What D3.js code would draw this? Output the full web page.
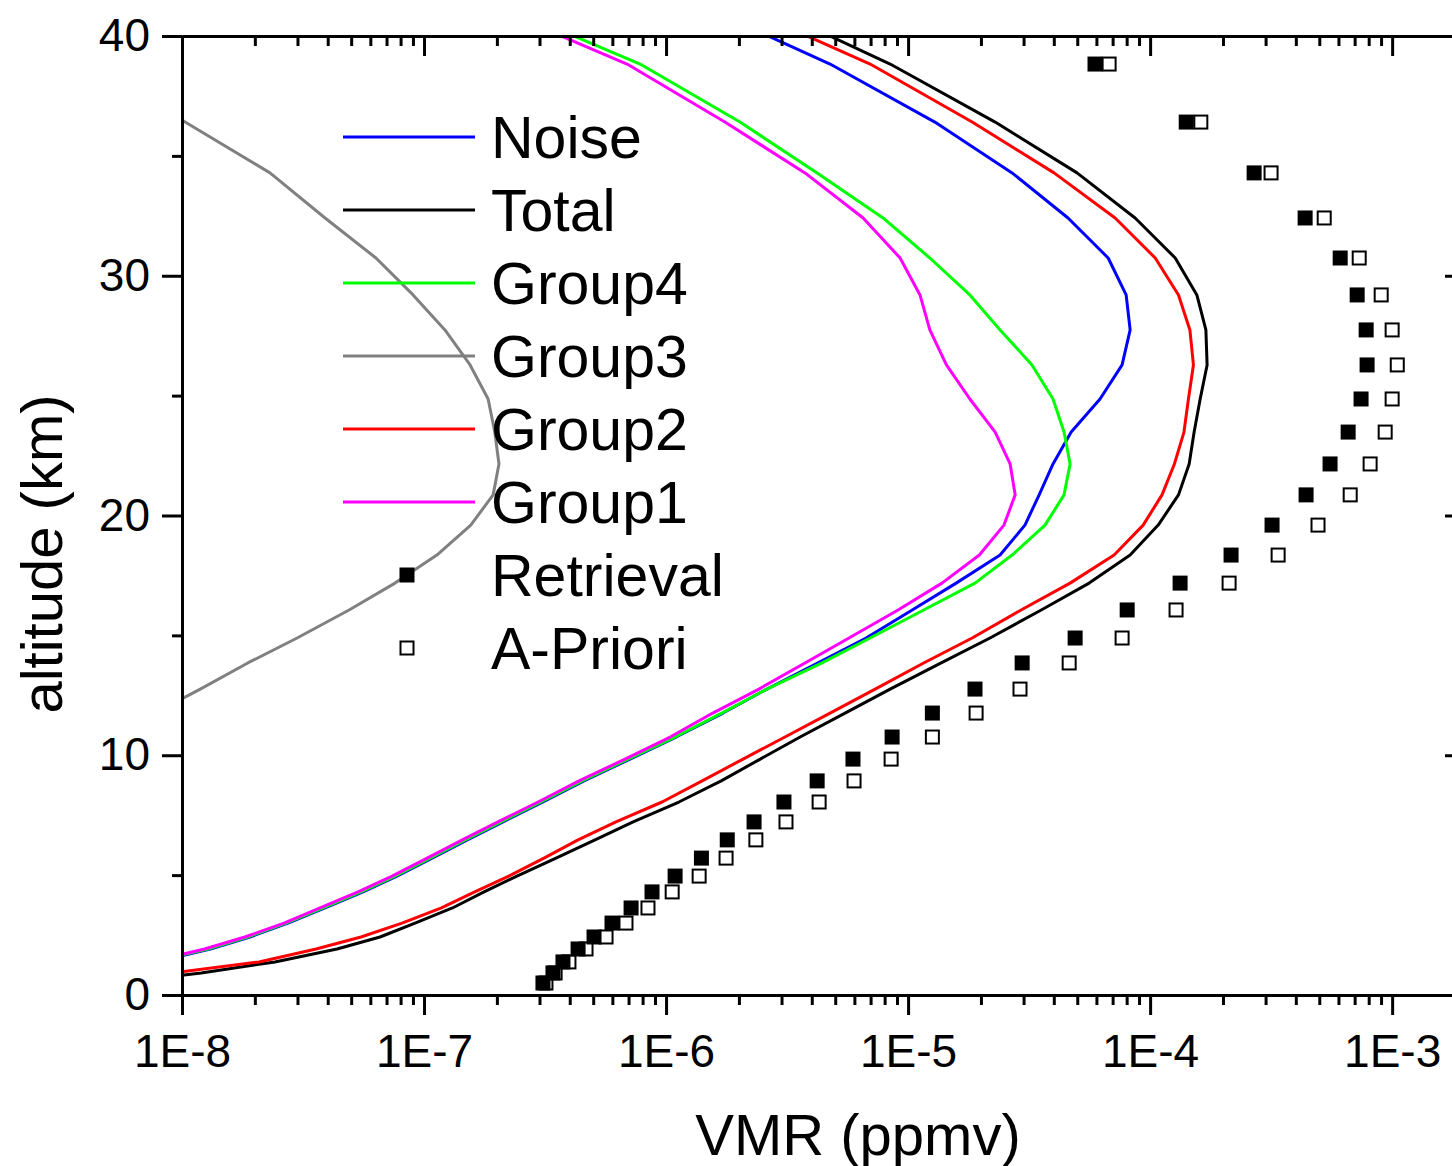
<!DOCTYPE html>
<html>
<head>
<meta charset="utf-8">
<script src="https://cdn.jsdelivr.net/npm/d3@7"></script>
<style>
    body { margin: 0; background: #fff; }
    svg { display: block; font-family: "Liberation Sans", Arial, sans-serif; }
</style>
</head>
<body>
<svg id="chart" width="1452" height="1166"></svg>
<script>
// altitude grid (km), the profiles share it
const altitude = [0.50, 0.92, 1.38, 1.92, 2.42, 3.00, 3.63, 4.30, 4.96, 5.71, 6.47, 7.22, 8.05, 8.93, 9.84,
    10.76, 11.76, 12.76, 13.85, 14.89, 16.06, 17.18, 18.35, 19.60, 20.86, 22.15, 23.48, 24.86, 26.28, 27.74,
    29.20, 30.74, 32.41, 34.29, 36.41, 38.83, 41.40];

// error profiles (ppmv)
const noise = [3.44e-9, 4.99e-9, 7.73e-9, 1.31e-8, 1.91e-8, 2.74e-8, 3.90e-8, 5.60e-8, 7.73e-8, 1.08e-7, 1.51e-7,
    2.12e-7, 3.10e-7, 4.58e-7, 7.10e-7, 1.10e-6, 1.72e-6, 2.61e-6, 4.25e-6, 6.71e-6, 1.04e-5, 1.58e-5, 2.40e-5,
    3.04e-5, 3.48e-5, 3.97e-5, 4.72e-5, 6.21e-5, 7.66e-5, 8.27e-5, 7.96e-5, 6.71e-5, 4.58e-5, 2.69e-5, 1.29e-5,
    4.76e-6, 1.31e-6];
const total = [5.39e-9, 1.20e-8, 2.42e-8, 4.37e-8, 6.58e-8, 9.18e-8, 1.31e-7, 1.77e-7, 2.42e-7, 3.51e-7, 5.09e-7,
    7.31e-7, 1.13e-6, 1.69e-6, 2.45e-6, 3.58e-6, 5.49e-6, 8.43e-6, 1.37e-5, 2.18e-5, 3.55e-5, 5.60e-5, 8.27e-5,
    1.08e-4, 1.31e-4, 1.45e-4, 1.52e-4, 1.61e-4, 1.72e-4, 1.70e-4, 1.56e-4, 1.27e-4, 8.67e-5, 4.99e-5, 2.29e-5,
    8.43e-6, 2.40e-6];
const group4 = [3.38e-9, 4.90e-9, 7.59e-9, 1.28e-8, 1.87e-8, 2.69e-8, 3.83e-8, 5.49e-8, 7.59e-8, 1.06e-7, 1.48e-7,
    2.08e-7, 3.04e-7, 4.50e-7, 6.97e-7, 1.09e-6, 1.70e-6, 2.61e-6, 4.41e-6, 6.97e-6, 1.16e-5, 1.89e-5, 2.69e-5,
    3.68e-5, 4.41e-5, 4.67e-5, 4.41e-5, 3.97e-5, 3.25e-5, 2.40e-5, 1.80e-5, 1.23e-5, 7.88e-6, 4.21e-6, 2.02e-6,
    7.81e-7, 1.96e-7];
const group3 = [null, null, null, null, null, null, null, null, null, null, null, null, null, null, null, null,
    7.73e-9, 1.19e-8, 1.87e-8, 2.99e-8, 4.90e-8, 7.59e-8, 1.13e-7, 1.56e-7, 1.93e-7, 2.04e-7, 1.96e-7, 1.84e-7,
    1.55e-7, 1.22e-7, 9.01e-8, 6.33e-8, 3.90e-8, 2.31e-8, 1.03e-8, 4.25e-9, null];
const group2 = [5.81e-9, 9.09e-9, 2.08e-8, 3.58e-8, 5.49e-8, 8.11e-8, 1.18e-7, 1.62e-7, 2.24e-7, 3.13e-7, 4.33e-7,
    6.21e-7, 9.63e-7, 1.41e-6, 2.08e-6, 3.10e-6, 4.76e-6, 7.31e-6, 1.16e-5, 1.84e-5, 2.93e-5, 4.67e-5, 7.10e-5,
    9.36e-5, 1.12e-4, 1.26e-4, 1.38e-4, 1.44e-4, 1.51e-4, 1.46e-4, 1.31e-4, 1.05e-4, 7.17e-5, 4.01e-5, 1.84e-5,
    6.97e-6, 1.87e-6];
const group1 = [3.28e-9, 4.76e-9, 7.38e-9, 1.24e-8, 1.82e-8, 2.64e-8, 3.72e-8, 5.34e-8, 7.38e-8, 1.03e-7, 1.44e-7,
    2.02e-7, 2.96e-7, 4.37e-7, 6.77e-7, 1.04e-6, 1.56e-6, 2.42e-6, 3.75e-6, 5.70e-6, 9.09e-6, 1.38e-5, 1.97e-5,
    2.49e-5, 2.77e-5, 2.64e-5, 2.29e-5, 1.80e-5, 1.44e-5, 1.23e-5, 1.12e-5, 9.27e-6, 6.52e-6, 3.75e-6, 1.75e-6,
    6.90e-7, 1.74e-7];

// retrieved and a-priori VMR (ppmv), one per altitude level
const retrieval = [3.10e-7, 3.41e-7, 3.75e-7, 4.33e-7, 5.04e-7, 5.98e-7, 7.17e-7, 8.75e-7, 1.09e-6, 1.40e-6, 1.79e-6,
    2.31e-6, 3.07e-6, 4.21e-6, 5.92e-6, 8.59e-6, 1.26e-5, 1.89e-5, 2.96e-5, 4.90e-5, 8.04e-5, 1.33e-4, 2.16e-4,
    3.19e-4, 4.41e-4, 5.54e-4, 6.58e-4, 7.44e-4, 7.88e-4, 7.81e-4, 7.17e-4, 6.10e-4, 4.37e-4, 2.69e-4, 1.41e-4,
    5.92e-5];
const apriori = [3.19e-7, 3.48e-7, 3.97e-7, 4.67e-7, 5.65e-7, 6.83e-7, 8.42e-7, 1.06e-6, 1.37e-6, 1.77e-6, 2.35e-6,
    3.13e-6, 4.29e-6, 5.98e-6, 8.51e-6, 1.26e-5, 1.91e-5, 2.90e-5, 4.63e-5, 7.66e-5, 1.28e-4, 2.12e-4, 3.38e-4,
    4.94e-4, 6.71e-4, 8.11e-4, 9.36e-4, 1.00e-3, 1.05e-3, 1.00e-3, 9.01e-4, 7.31e-4, 5.24e-4, 3.16e-4, 1.62e-4,
    6.77e-5];

const lineNames = ["Noise", "Total", "Group4", "Group3", "Group2", "Group1"];
const lineColors = ["#0000ff", "#000000", "#00ff00", "#808080", "#ff0000", "#ff00ff"];
const lineValues = [noise, total, group4, group3, group2, group1];
const markerNames = ["Retrieval", "A-Priori"];

const xMajorTicks = [1e-8, 1e-7, 1e-6, 1e-5, 1e-4, 1e-3];
const xTickLabels = ["1E-8", "1E-7", "1E-6", "1E-5", "1E-4", "1E-3"];
const yMajorTicks = [0, 10, 20, 30, 40];
const yMinorTicks = [5, 15, 25, 35];

const plotLeft = 182, plotTop = 36, plotRight = 1465, plotBottom = 995;

const x = d3.scaleLog().domain([1e-8, 2e-3]).range([plotLeft, plotRight]);
const y = d3.scaleLinear().domain([0, 40]).range([plotBottom, plotTop]);

// minor log ticks 2..9 of each decade
const xMinorTicks = x.ticks().filter(t => !xMajorTicks.some(m => Math.abs(m - t) / m < 1e-6));

const svg = d3.select("#chart");

svg.append("defs").append("clipPath").attr("id", "clip")
    .append("rect")
    .attr("x", plotLeft).attr("y", plotTop)
    .attr("width", plotRight - plotLeft).attr("height", plotBottom - plotTop);

// profiles
const line = d3.line()
    .defined(d => d.v !== null)
    .x(d => x(d.v))
    .y(d => y(d.z));

const lines = svg.append("g").attr("clip-path", "url(#clip)");
lineValues.forEach((vals, k) => {
    lines.append("path")
        .datum(vals.map((v, i) => ({ v: v, z: altitude[i] })))
        .attr("fill", "none")
        .attr("stroke", lineColors[k])
        .attr("stroke-width", 3)
        .attr("stroke-linejoin", "round")
        .attr("d", line);
});

// markers: a-priori first, retrieval on top
const markers = svg.append("g");
const size = 15;
markers.selectAll("rect.apriori")
    .data(apriori)
    .enter().append("rect")
    .attr("class", "apriori")
    .attr("x", d => x(d) - size / 2 + 1)
    .attr("y", (d, i) => y(altitude[i]) - size / 2 + 1)
    .attr("width", size - 2).attr("height", size - 2)
    .attr("fill", "#fff").attr("stroke", "#000").attr("stroke-width", 2);
markers.selectAll("rect.retrieval")
    .data(retrieval)
    .enter().append("rect")
    .attr("class", "retrieval")
    .attr("x", d => x(d) - size / 2)
    .attr("y", (d, i) => y(altitude[i]) - size / 2)
    .attr("width", size).attr("height", size)
    .attr("fill", "#000");

// axes
function styleAxis(g) {
    g.selectAll("path, line").attr("stroke", "#000").attr("stroke-width", 3);
    g.selectAll("text").attr("font-size", 46).attr("fill", "#000")
        .attr("font-family", "'Liberation Sans', Arial, sans-serif");
}

svg.append("g").attr("transform", `translate(0,${plotBottom})`)
    .call(d3.axisBottom(x).tickValues(xMinorTicks).tickSize(10).tickSizeOuter(0).tickFormat(""))
    .call(styleAxis);
svg.append("g").attr("transform", `translate(0,${plotBottom})`)
    .call(d3.axisBottom(x).tickValues(xMajorTicks).tickSize(20).tickSizeOuter(0).tickPadding(19)
        .tickFormat((d, i) => xTickLabels[i]))
    .call(styleAxis);

svg.append("g").attr("transform", `translate(0,${plotTop})`)
    .call(d3.axisTop(x).tickValues(xMinorTicks).tickSize(-10).tickSizeOuter(0).tickFormat(""))
    .call(styleAxis);
svg.append("g").attr("transform", `translate(0,${plotTop})`)
    .call(d3.axisTop(x).tickValues(xMajorTicks).tickSize(-20).tickSizeOuter(0).tickFormat(""))
    .call(styleAxis);

svg.append("g").attr("transform", `translate(${plotLeft},0)`)
    .call(d3.axisLeft(y).tickValues(yMinorTicks).tickSize(10).tickSizeOuter(0).tickFormat(""))
    .call(styleAxis);
svg.append("g").attr("transform", `translate(${plotLeft},0)`)
    .call(d3.axisLeft(y).tickValues(yMajorTicks).tickSize(20).tickSizeOuter(0).tickPadding(12))
    .call(styleAxis);

svg.append("g").attr("transform", `translate(${plotRight},0)`)
    .call(d3.axisRight(y).tickValues(yMinorTicks).tickSize(-10).tickSizeOuter(0).tickFormat(""))
    .call(styleAxis);
svg.append("g").attr("transform", `translate(${plotRight},0)`)
    .call(d3.axisRight(y).tickValues(yMajorTicks).tickSize(-20).tickSizeOuter(0).tickFormat(""))
    .call(styleAxis);

// axis titles
svg.append("text")
    .attr("x", 858).attr("y", 1155)
    .attr("text-anchor", "middle")
    .attr("font-size", 58)
    .text("VMR (ppmv)");
svg.append("text")
    .attr("transform", "translate(62,554) rotate(-90)")
    .attr("text-anchor", "middle")
    .attr("font-size", 58)
    .text("altitude (km)");

// legend
const legend = svg.append("g");
const rowY = i => 137 + 73 * i;
lineNames.forEach((name, i) => {
    legend.append("line")
        .attr("x1", 343).attr("x2", 475)
        .attr("y1", rowY(i)).attr("y2", rowY(i))
        .attr("stroke", lineColors[i]).attr("stroke-width", 3);
    legend.append("text")
        .attr("x", 491).attr("y", rowY(i) + 21)
        .attr("font-size", 59)
        .text(name);
});
markerNames.forEach((name, j) => {
    const yy = rowY(lineNames.length + j);
    if (j === 0) {
        legend.append("rect")
            .attr("x", 407 - size / 2).attr("y", yy - size / 2)
            .attr("width", size).attr("height", size).attr("fill", "#000");
    } else {
        legend.append("rect")
            .attr("x", 407 - size / 2 + 1).attr("y", yy - size / 2 + 1)
            .attr("width", size - 2).attr("height", size - 2)
            .attr("fill", "#fff").attr("stroke", "#000").attr("stroke-width", 2);
    }
    legend.append("text")
        .attr("x", 491).attr("y", yy + 21)
        .attr("font-size", 59)
        .text(name);
});
</script>
</body>
</html>
